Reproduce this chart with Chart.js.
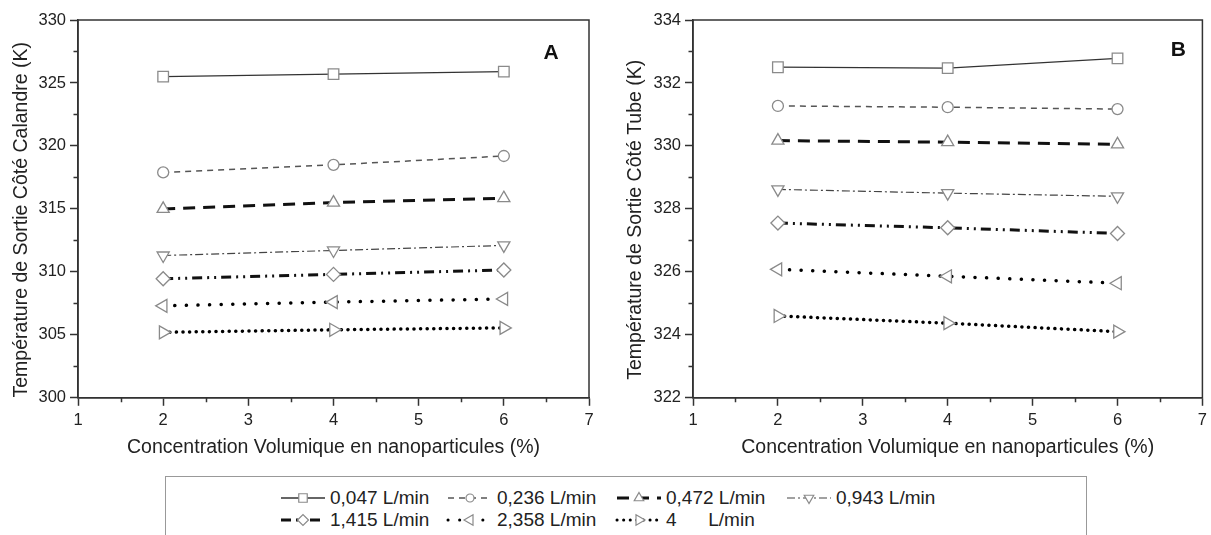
<!DOCTYPE html>
<html>
<head>
<meta charset="utf-8">
<script src="https://cdn.jsdelivr.net/npm/chart.js@4.4.1/dist/chart.umd.min.js"></script>
<style>
  body { margin: 0; background: #fff; width: 1211px; height: 535px; overflow: hidden; position: relative;
         font-family: "Liberation Sans", Arial, sans-serif; }
  #wrapA { position: absolute; left: 0; top: 0; }
  #wrapB { position: absolute; left: 600px; top: 0; }
  #legend { position: absolute; left: 165px; top: 476px; width: 922px; height: 80px;
            border: 1.5px solid #999; box-sizing: border-box; }
  .item { position: absolute; display: flex; align-items: center; height: 22px;
          font-size: 19px; color: #222; white-space: pre; }
  .item canvas { margin-right: 3px; }
</style>
</head>
<body>
<div id="wrapA"><canvas id="chartA" width="600" height="470"></canvas></div>
<div id="wrapB"><canvas id="chartB" width="612" height="470"></canvas></div>
<div id="legend"></div>
<script>
const FONT = "'Liberation Sans', Arial, sans-serif";

// x values (volume concentration, %)
const concentrations = [2, 4, 6];
const flowLabels = ["0,047 L/min", "0,236 L/min", "0,472 L/min", "0,943 L/min",
                    "1,415 L/min", "2,358 L/min", "4      L/min"];

// A : shell side outlet temperature (K)
const calandre047 = [325.5, 325.7, 325.9];
const calandre236 = [317.9, 318.5, 319.2];
const calandre472 = [315.0, 315.5, 315.85];
const calandre943 = [311.3, 311.7, 312.1];
const calandre1415 = [309.45, 309.8, 310.15];
const calandre2358 = [307.3, 307.6, 307.85];
const calandre4 = [305.2, 305.4, 305.55];

// B : tube side outlet temperature (K)
const tube047 = [332.5, 332.47, 332.78];
const tube236 = [331.27, 331.23, 331.17];
const tube472 = [330.17, 330.12, 330.05];
const tube943 = [328.62, 328.5, 328.4];
const tube1415 = [327.55, 327.4, 327.22];
const tube2358 = [326.08, 325.86, 325.64];
const tube4 = [324.6, 324.37, 324.1];

const yTicksA = { min: 300, max: 330, step: 5 };
const yTicksB = { min: 322, max: 334, step: 2 };

// line / marker look per flow rate
const lineStyles = [
  { color: "#333", width: 1.3, dash: [], cap: "butt" },
  { color: "#555", width: 1.5, dash: [6, 5], cap: "butt" },
  { color: "#111", width: 3, dash: [12, 8], cap: "butt" },
  { color: "#444", width: 1.2, dash: [8, 3, 2, 3], cap: "butt" },
  { color: "#111", width: 3, dash: [10, 5, 2, 5, 2, 5], cap: "butt" },
  { color: "#000", width: 3.5, dash: [0.1, 11.5], cap: "round" },
  { color: "#000", width: 3.5, dash: [0.1, 6.5], cap: "round" },
];
const markerStyles = [
  { style: "rect", rotation: 0, radius: 7.5 },
  { style: "circle", rotation: 0, radius: 5.5 },
  { style: "triangle", rotation: 0, radius: 7 },
  { style: "triangle", rotation: 180, radius: 7 },
  { style: "rectRot", rotation: 0, radius: 7 },
  { style: "triangle", rotation: 270, radius: 7.5 },
  { style: "triangle", rotation: 90, radius: 7.5 },
];

const framePlugin = {
  id: "frame",
  afterDraw(chart, args, opts) {
    const { ctx, chartArea: a, scales } = chart;
    ctx.save();
    ctx.strokeStyle = "#333";
    ctx.lineWidth = 1.5;
    ctx.strokeRect(a.left, a.top, a.right - a.left, a.bottom - a.top);
    // minor ticks
    ctx.beginPath();
    for (let v = 1.5; v < 7; v += 1) {
      const px = Math.round(scales.x.getPixelForValue(v)) + 0.5;
      ctx.moveTo(px, a.bottom);
      ctx.lineTo(px, a.bottom + 4.5);
    }
    for (let v = opts.yMin + opts.yStep / 2; v < opts.yMax; v += opts.yStep) {
      const py = Math.round(scales.y.getPixelForValue(v)) + 0.5;
      ctx.moveTo(a.left, py);
      ctx.lineTo(a.left - 4.5, py);
    }
    ctx.stroke();
    ctx.fillStyle = "#111";
    ctx.font = "bold 21px " + FONT;
    ctx.textAlign = "center";
    ctx.textBaseline = "middle";
    ctx.fillText(opts.letter, a.right - opts.dx, a.top + opts.dy);
    ctx.restore();
  },
};

function buildChart(canvasId, series, yt, yTitle, letter, axisWidth, titlePad, padRight, dx, dy) {
  const datasets = series.map((vals, i) => ({
    label: flowLabels[i],
    data: concentrations.map((c, j) => ({ x: c, y: vals[j] })),
    borderColor: lineStyles[i].color,
    borderWidth: lineStyles[i].width,
    borderDash: lineStyles[i].dash,
    borderCapStyle: lineStyles[i].cap,
    pointStyle: markerStyles[i].style,
    pointRotation: markerStyles[i].rotation,
    pointRadius: markerStyles[i].radius,
    pointBorderColor: "#8a8a8a",
    pointBackgroundColor: "#fff",
    pointBorderWidth: 1.3,
    tension: 0,
    fill: false,
  }));

  return new Chart(document.getElementById(canvasId), {
    type: "line",
    data: { datasets },
    plugins: [framePlugin],
    options: {
      responsive: false,
      animation: false,
      layout: { padding: { top: 20, right: padRight, left: 0, bottom: 2 } },
      plugins: {
        legend: { display: false },
        tooltip: { enabled: false },
        frame: { letter, dx, dy, yMin: yt.min, yMax: yt.max, yStep: yt.step },
      },
      scales: {
        x: {
          type: "linear",
          min: 1,
          max: 7,
          ticks: { stepSize: 1, color: "#222", padding: 5, font: { size: 16.5, family: FONT } },
          grid: { drawOnChartArea: false, tickLength: 8, tickColor: "#333", tickWidth: 1.5 },
          border: { color: "#333", width: 1.5 },
          title: {
            display: true,
            text: "Concentration Volumique en nanoparticules (%)",
            color: "#222",
            font: { size: 19.5, family: FONT },
            padding: { top: 0, bottom: 9 },
          },
        },
        y: {
          min: yt.min,
          max: yt.max,
          ticks: { stepSize: yt.step, color: "#222", padding: 4, font: { size: 16.5, family: FONT } },
          grid: { drawOnChartArea: false, tickLength: 8, tickColor: "#333", tickWidth: 1.5 },
          border: { color: "#333", width: 1.5 },
          title: {
            display: true,
            // trailing spaces push the rotated title a bit lower, as in the original
            text: yTitle + "\u00a0\u00a0\u00a0\u00a0",
            color: "#222",
            font: { size: 19.5, family: FONT },
            padding: { top: titlePad, bottom: 0 },
          },
          afterFit(scale) {
            scale.width = axisWidth;
          },
        },
      },
    },
  });
}

buildChart("chartA",
  [calandre047, calandre236, calandre472, calandre943, calandre1415, calandre2358, calandre4],
  yTicksA, "Température de Sortie Côté Calandre (K)", "A", 78, 10, 11, 38, 33);

buildChart("chartB",
  [tube047, tube236, tube472, tube943, tube1415, tube2358, tube4],
  yTicksB, "Température de Sortie Côté Tube (K)", "B", 93, 24, 0, 24, 30);

// legend (two rows, fixed columns like the original)
const legendCols = [113, 280, 449, 619];
const legendRows = [10, 32];
const legend = document.getElementById("legend");
flowLabels.forEach((name, i) => {
  const row = i < 4 ? 0 : 1;
  const col = i < 4 ? i : i - 4;
  const item = document.createElement("div");
  item.className = "item";
  item.style.left = legendCols[col] + "px";
  item.style.top = legendRows[row] + "px";
  const c = document.createElement("canvas");
  c.width = 48;
  c.height = 22;
  const g = c.getContext("2d");
  const ls = lineStyles[i];
  g.strokeStyle = ls.color;
  g.lineWidth = Math.min(ls.width, 3);
  g.lineCap = ls.cap;
  g.setLineDash(ls.dash);
  g.beginPath();
  g.moveTo(2, 11);
  g.lineTo(46, 11);
  g.stroke();
  g.setLineDash([]);
  const ms = markerStyles[i];
  g.strokeStyle = "#8a8a8a";
  g.fillStyle = "#fff";
  g.lineWidth = 1.2;
  Chart.helpers.drawPoint(g, { pointStyle: ms.style, rotation: ms.rotation, radius: ms.radius - 1.5, borderWidth: 1.2 }, 24, 11);
  const span = document.createElement("span");
  span.textContent = name;
  item.appendChild(c);
  item.appendChild(span);
  legend.appendChild(item);
});
</script>
</body>
</html>
